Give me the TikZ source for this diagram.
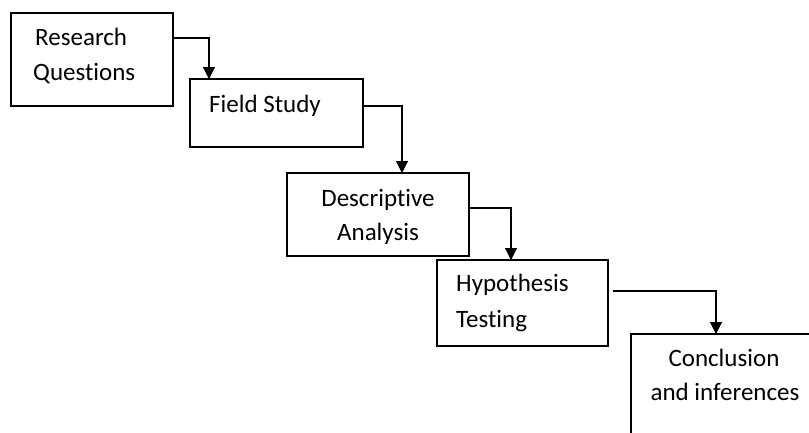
\documentclass[tikz,border=0pt]{standalone}
\usepackage{fontspec}
\setmainfont{Carlito}[Ligatures={NoCommon}]
\usetikzlibrary{arrows.meta}
\begin{document}
\begin{tikzpicture}[x=1pt,y=-1pt,
  box/.style={draw=black,line width=1.1pt,anchor=north west,inner sep=0pt,outer sep=0pt},
  lbl/.style={inner sep=0pt,font=\fontsize{25}{35}\selectfont},
  arr/.style={draw=black,line width=1.1pt,-{Triangle[width=12pt,length=12pt]}}]
\useasboundingbox (0,0) rectangle (809,432);
\clip (0,0) rectangle (809,432);
\node[box,minimum width=162pt,minimum height=93pt] (b1) at (11,13) {};
\node[box,minimum width=173pt,minimum height=68pt] (b2) at (190,79) {};
\node[box,minimum width=182pt,minimum height=83pt] (b3) at (287,173) {};
\node[box,minimum width=171pt,minimum height=86pt] (b4) at (437,260) {};
\node[box,minimum width=200pt,minimum height=120pt] (b5) at (631,334) {};
\node[lbl,anchor=base west] (t1a) at (35,45) {Research};
\node[lbl,anchor=base west] (t1b) at (33,80) {Questions};
\node[lbl,anchor=base west] (t2a) at (209,112) {Field Study};
\node[lbl,anchor=base] (t3a) at (378,206) {Descriptive};
\node[lbl,anchor=base] (t3b) at (378,240) {Analysis};
\node[lbl,anchor=base west] (t4a) at (456,291) {Hypothesis};
\node[lbl,anchor=base west] (t4b) at (456,327) {Testing};
\node[lbl,anchor=base] (t5a) at (724,366) {Conclusion};
\node[lbl,anchor=base] (t5b) at (725,400) {and inferences};
\draw[arr] ([yshift=-25pt]b1.north east) -| ([xshift=19pt]b2.north west);
\draw[arr] ([yshift=-27pt]b2.north east) -| ([xshift=115pt]b3.north west);
\draw[arr] ([yshift=-35pt]b3.north east) -| ([xshift=74pt]b4.north west);
\draw[arr] ([xshift=5pt,yshift=-31pt]b4.north east) -| ([xshift=85pt]b5.north west);
\end{tikzpicture}
\end{document}
